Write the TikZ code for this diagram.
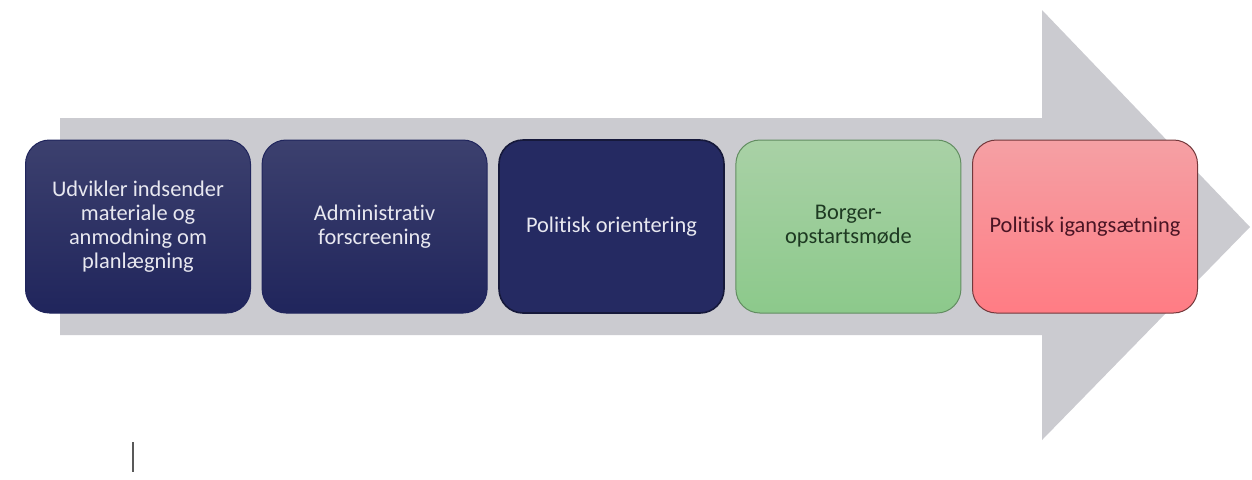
\documentclass[tikz,border=0pt]{standalone}
\usepackage{fontspec}
\setmainfont{Carlito}[Ligatures=NoCommon]
\usepackage{tikz}
\usetikzlibrary{positioning}
\definecolor{arrowgrey}{HTML}{CBCBD0}
\definecolor{navytop}{HTML}{3C406E}
\definecolor{navybot}{HTML}{20255C}
\definecolor{navyflat}{HTML}{252A62}
\definecolor{navytext}{HTML}{E8E8F0}
\definecolor{greentop}{HTML}{A9D1A6}
\definecolor{greenbot}{HTML}{8CC98B}
\definecolor{greentext}{HTML}{1E3A22}
\definecolor{redtop}{HTML}{F5A0A4}
\definecolor{redbot}{HTML}{FF7C84}
\definecolor{redtext}{HTML}{4A1424}
\tikzset{
	phase node/.style={rectangle,rounded corners=12pt,minimum width=112.5pt,minimum height=86.5pt,
		inner sep=0pt,align=center,line width=0.5pt,font=\fontsize{11.2}{12}\selectfont},
	dark node/.style={phase node,top color=navytop,bottom color=navybot,draw=navybot,text=navytext},
	flat node/.style={phase node,fill=navyflat,draw=navyflat!60!black,line width=0.8pt,text=navytext},
	green node/.style={phase node,top color=greentop,bottom color=greenbot,draw=greenbot!70!black,text=greentext},
	red node/.style={phase node,top color=redtop,bottom color=redbot,draw=redbot!45!black,text=redtext},
	cursor line/.style={draw=black!65,line width=0.6pt}
}

\begin{document}
\begin{tikzpicture}[x=0.5pt,y=-0.5pt,node distance=5.3pt]
	\useasboundingbox (0,0) rectangle (1252,479);
	% big arrow behind the phases
	\fill[arrowgrey] (60,118) -- (1042,118) -- (1042,10) -- (1250,227) -- (1042,440) -- (1042,335) -- (60,335) -- cycle;
	\node [dark node] (udvikler) at (138,226.5) {Udvikler indsender\\materiale og\\anmodning om\\planlægning};
	\node [dark node,right=of udvikler] (forscreening) {Administrativ\\forscreening};
	\node [flat node,right=of forscreening] (orientering) {Politisk orientering};
	\node [green node,right=of orientering] (borgermoede) {Borger-\\opstartsmøde};
	\node [red node,right=of borgermoede] (igangsaetning) {Politisk igangsætning};
	\coordinate (cursor top) at (133,442);
	\coordinate (cursor bottom) at (133,472);
	\draw [cursor line] (cursor top) -- (cursor bottom);
\end{tikzpicture}
\end{document}
